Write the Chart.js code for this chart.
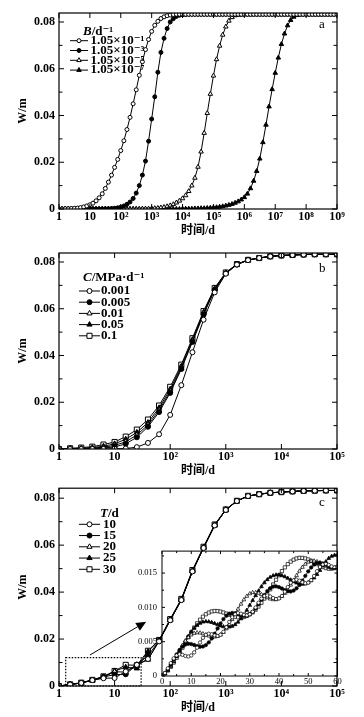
<!DOCTYPE html>
<html>
<head>
<meta charset="utf-8">
<script src="https://cdn.jsdelivr.net/npm/chart.js@4.4.1/dist/chart.umd.min.js"></script>
<style>
html, body { margin: 0; padding: 0; background: #fff; }
body { position: relative; width: 364px; height: 717px; overflow: hidden; }
canvas { position: absolute; }
</style>
</head>
<body>
<canvas id="chartA" width="364" height="240" style="left:0;top:0"></canvas>
<canvas id="chartB" width="364" height="240" style="left:0;top:240px"></canvas>
<canvas id="inset" width="228" height="150" style="left:118px;top:541px"></canvas>
<canvas id="chartC" width="364" height="240" style="left:0;top:477px"></canvas>
<script>
// ---- shared axis ticks ----
const decadeValues = [1, 10, 1e2, 1e3, 1e4, 1e5, 1e6, 1e7, 1e8, 1e9];
const decadeLabels = ['1', '10', '10²', '10³', '10⁴', '10⁵', '10⁶', '10⁷', '10⁸', '10⁹'];
const wTicks = [0, 0.01, 0.02, 0.03, 0.04, 0.05, 0.06, 0.07, 0.08];
const wTickLabels = ['0', '', '0.02', '', '0.04', '', '0.06', '', '0.08'];

// ---- panel a: W vs time, 10 samples per decade from 1 to 1e9 d ----
const aLabels = ['1.05×10⁻¹', '1.05×10⁻³', '1.05×10⁻⁵', '1.05×10⁻⁷'];
const aB1 = [
  0, 0, 0.0001, 0.0001, 0.0002, 0.0003, 0.0004, 0.0006, 0.0009, 0.0013,
  0.0018, 0.0025, 0.0035, 0.0048, 0.0065, 0.0088, 0.0115, 0.0145, 0.0178, 0.0212,
  0.0250, 0.0292, 0.0340, 0.0392, 0.0450, 0.0510, 0.0572, 0.0630, 0.0682, 0.0725,
  0.0760, 0.0786, 0.0803, 0.0815, 0.0822, 0.0827, 0.0830, 0.0832, 0.0833, 0.0833,
  0.0833, 0.0833, 0.0833, 0.0833, 0.0833, 0.0833, 0.0833, 0.0833, 0.0833, 0.0833,
  0.0833, 0.0833, 0.0833, 0.0833, 0.0833, 0.0833, 0.0833, 0.0833, 0.0833, 0.0833,
  0.0833, 0.0833, 0.0833, 0.0833, 0.0833, 0.0833, 0.0833, 0.0833, 0.0833, 0.0833,
  0.0833, 0.0833, 0.0833, 0.0833, 0.0833, 0.0833, 0.0833, 0.0833, 0.0833, 0.0833,
  0.0833, 0.0833, 0.0833, 0.0833, 0.0833, 0.0833, 0.0833, 0.0833, 0.0833, 0.0833,
  0.0833
];
const aB3 = [
  0, 0, 0, 0, 0, 0, 0, 0, 0, 0,
  0, 0, 0, 0, 0, 0.0001, 0.0001, 0.0002, 0.0003, 0.0005,
  0.0008, 0.0013, 0.0020, 0.0030, 0.0045, 0.0068, 0.0100, 0.0145, 0.0205, 0.0290,
  0.0385, 0.0480, 0.0585, 0.0670, 0.0730, 0.0772, 0.0800, 0.0814, 0.0824, 0.0829,
  0.0831, 0.0832, 0.0833, 0.0833, 0.0833, 0.0833, 0.0833, 0.0833, 0.0833, 0.0833,
  0.0833, 0.0833, 0.0833, 0.0833, 0.0833, 0.0833, 0.0833, 0.0833, 0.0833, 0.0833,
  0.0833, 0.0833, 0.0833, 0.0833, 0.0833, 0.0833, 0.0833, 0.0833, 0.0833, 0.0833,
  0.0833, 0.0833, 0.0833, 0.0833, 0.0833, 0.0833, 0.0833, 0.0833, 0.0833, 0.0833,
  0.0833, 0.0833, 0.0833, 0.0833, 0.0833, 0.0833, 0.0833, 0.0833, 0.0833, 0.0833,
  0.0833
];
const aB5 = [
  0, 0, 0, 0, 0, 0, 0, 0, 0, 0,
  0, 0, 0, 0, 0, 0, 0, 0, 0, 0,
  0, 0, 0, 0, 0, 0, 0, 0.0001, 0.0001, 0.0001,
  0.0002, 0.0003, 0.0004, 0.0006, 0.0008, 0.0011, 0.0015, 0.0020, 0.0027, 0.0035,
  0.0045, 0.0058, 0.0076, 0.0100, 0.0133, 0.0180, 0.0245, 0.0325, 0.0410, 0.0492,
  0.0570, 0.0640, 0.0698, 0.0745, 0.0780, 0.0805, 0.0820, 0.0828, 0.0831, 0.0832,
  0.0833, 0.0833, 0.0833, 0.0833, 0.0833, 0.0833, 0.0833, 0.0833, 0.0833, 0.0833,
  0.0833, 0.0833, 0.0833, 0.0833, 0.0833, 0.0833, 0.0833, 0.0833, 0.0833, 0.0833,
  0.0833, 0.0833, 0.0833, 0.0833, 0.0833, 0.0833, 0.0833, 0.0833, 0.0833, 0.0833,
  0.0833
];
const aB7 = [
  0, 0, 0, 0, 0, 0, 0, 0, 0, 0,
  0, 0, 0, 0, 0, 0, 0, 0, 0, 0,
  0, 0, 0, 0, 0, 0, 0, 0, 0, 0,
  0, 0, 0, 0, 0, 0, 0, 0, 0, 0,
  0.0001, 0.0001, 0.0001, 0.0001, 0.0002, 0.0002, 0.0003, 0.0003, 0.0004, 0.0005,
  0.0006, 0.0007, 0.0009, 0.0011, 0.0014, 0.0017, 0.0021, 0.0026, 0.0032, 0.0040,
  0.0050, 0.0065, 0.0088, 0.0120, 0.0162, 0.0215, 0.0285, 0.0360, 0.0438, 0.0512,
  0.0582, 0.0647, 0.0705, 0.0750, 0.0785, 0.0808, 0.0822, 0.0829, 0.0832, 0.0833,
  0.0833, 0.0833, 0.0833, 0.0833, 0.0833, 0.0833, 0.0833, 0.0833, 0.0833, 0.0833,
  0.0833
];
const aTime = aB1.map((_, i) => Math.pow(10, i / 10));

// ---- panel b ----
const bTime = [1, 1.585, 2.512, 3.981, 6.310, 10, 15.85, 25.12, 39.81, 63.10, 100, 158.5, 251.2,
  398.1, 631.0, 1000, 1585, 2512, 3981, 6310, 1e4, 15849, 25119, 39811, 63096, 1e5];
const bLabels = ['0.001', '0.005', '0.01', '0.05', '0.1'];
const bC0001 = [0, 0, 0, 0, 0, 0.0001, 0.0002, 0.0008, 0.0026, 0.0063, 0.0146, 0.0273, 0.0414,
  0.0553, 0.0670, 0.0750, 0.0789, 0.0808, 0.0817, 0.0824, 0.0828, 0.0830, 0.0832, 0.0833, 0.0833, 0.0833];
const bC0005 = [0, 0, 0.0001, 0.0002, 0.0004, 0.0009, 0.0022, 0.0050, 0.0095, 0.0158, 0.0240, 0.0342, 0.0458,
  0.0575, 0.0680, 0.0751, 0.0789, 0.0808, 0.0817, 0.0824, 0.0828, 0.0830, 0.0832, 0.0833, 0.0833, 0.0833];
const bC001 = [0, 0.0001, 0.0002, 0.0004, 0.0008, 0.0015, 0.0031, 0.0060, 0.0103, 0.0166, 0.0247, 0.0347, 0.0463,
  0.0580, 0.0683, 0.0752, 0.0790, 0.0808, 0.0817, 0.0824, 0.0828, 0.0830, 0.0832, 0.0833, 0.0833, 0.0833];
const bC005 = [0, 0.0001, 0.0003, 0.0006, 0.0012, 0.0022, 0.0042, 0.0071, 0.0113, 0.0176, 0.0256, 0.0354, 0.0468,
  0.0585, 0.0686, 0.0754, 0.0790, 0.0809, 0.0817, 0.0824, 0.0828, 0.0830, 0.0832, 0.0833, 0.0833, 0.0833];
const bC01 = [0, 0.0003, 0.0006, 0.0010, 0.0019, 0.0030, 0.0053, 0.0083, 0.0126, 0.0186, 0.0266, 0.0361, 0.0474,
  0.0590, 0.0689, 0.0755, 0.0791, 0.0809, 0.0817, 0.0824, 0.0828, 0.0830, 0.0832, 0.0833, 0.0833, 0.0833];

// ---- panel c (same time grid as b) ----
const cLabels = ['10', '15', '20', '25', '30'];
const cT10 = [0, 0.0006, 0.0013, 0.0025, 0.0033, 0.0034, 0.0062, 0.0090, 0.0115, 0.0190, 0.0280, 0.0366, 0.0488,
  0.0588, 0.0684, 0.0750, 0.0788, 0.0809, 0.0817, 0.0823, 0.0826, 0.0829, 0.0831, 0.0832, 0.0833, 0.0833];
const cT15 = [0, 0.0006, 0.0013, 0.0025, 0.0039, 0.0048, 0.0050, 0.0091, 0.0128, 0.0193, 0.0281, 0.0367, 0.0489,
  0.0589, 0.0685, 0.0750, 0.0788, 0.0809, 0.0817, 0.0823, 0.0826, 0.0829, 0.0831, 0.0832, 0.0833, 0.0833];
const cT20 = [0, 0.0006, 0.0013, 0.0025, 0.0038, 0.0061, 0.0059, 0.0090, 0.0112, 0.0192, 0.0280, 0.0366, 0.0488,
  0.0588, 0.0684, 0.0751, 0.0788, 0.0809, 0.0817, 0.0823, 0.0826, 0.0829, 0.0831, 0.0832, 0.0833, 0.0833];
const cT25 = [0, 0.0006, 0.0013, 0.0024, 0.0036, 0.0064, 0.0080, 0.0075, 0.0147, 0.0194, 0.0282, 0.0368, 0.0490,
  0.0590, 0.0685, 0.0751, 0.0788, 0.0809, 0.0817, 0.0823, 0.0826, 0.0829, 0.0831, 0.0832, 0.0833, 0.0833];
const cT30 = [0, 0.0007, 0.0014, 0.0026, 0.0041, 0.0064, 0.0090, 0.0088, 0.0150, 0.0196, 0.0285, 0.0371, 0.0494,
  0.0593, 0.0688, 0.0752, 0.0789, 0.0810, 0.0817, 0.0823, 0.0826, 0.0829, 0.0831, 0.0832, 0.0833, 0.0833];
const zoomBox = [1.32, 30, 0, 0.0121];       // t0, t1, W0, W1
const zoomArrow = [3.6, 0.0132, 37, 0.0274]; // from (t, W) to (t, W)

// ---- inset: first 60 days, one value per day ----
const insetDayTicks = [0, 5, 10, 15, 20, 25, 30, 35, 40, 45, 50, 55, 60];
const insetDayLabels = ['0', '', '10', '', '20', '', '30', '', '40', '', '50', '', '60'];
const insetWTicks = [0, 0.0025, 0.005, 0.0075, 0.01, 0.0125, 0.015, 0.0175];
const insetWLabels = ['0', '', '0.005', '', '0.010', '', '0.015', ''];
const iT10 = [
  0, 0.00044, 0.00112, 0.00188, 0.00256, 0.00300, 0.00316, 0.00308, 0.00292, 0.00284,
  0.00300, 0.00344, 0.00412, 0.00488, 0.00556, 0.00600, 0.00616, 0.00608, 0.00592, 0.00584,
  0.00600, 0.00644, 0.00712, 0.00788, 0.00856, 0.00900, 0.00916, 0.00908, 0.00892, 0.00884,
  0.00900, 0.00937, 0.00998, 0.01067, 0.01128, 0.01165, 0.01174, 0.01159, 0.01136, 0.01121,
  0.01130, 0.01167, 0.01228, 0.01297, 0.01358, 0.01395, 0.01404, 0.01389, 0.01366, 0.01351,
  0.01360, 0.01397, 0.01458, 0.01527, 0.01588, 0.01625, 0.01634, 0.01619, 0.01596, 0.01581,
  0.01590
];
const iT15 = [
  0, 0.00040, 0.00096, 0.00166, 0.00242, 0.00315, 0.00379, 0.00428, 0.00458, 0.00469,
  0.00465, 0.00452, 0.00436, 0.00426, 0.00430, 0.00450, 0.00490, 0.00546, 0.00616, 0.00692,
  0.00765, 0.00829, 0.00878, 0.00908, 0.00919, 0.00915, 0.00902, 0.00886, 0.00876, 0.00880,
  0.00900, 0.00933, 0.00982, 0.01045, 0.01114, 0.01180, 0.01237, 0.01279, 0.01302, 0.01306,
  0.01295, 0.01275, 0.01252, 0.01235, 0.01232, 0.01245, 0.01278, 0.01327, 0.01390, 0.01459,
  0.01525, 0.01582, 0.01624, 0.01647, 0.01651, 0.01640, 0.01620, 0.01597, 0.01580, 0.01577,
  0.01590
];
const iT20 = [
  0, 0.00037, 0.00089, 0.00152, 0.00224, 0.00300, 0.00376, 0.00448, 0.00511, 0.00563,
  0.00600, 0.00623, 0.00631, 0.00628, 0.00616, 0.00600, 0.00584, 0.00572, 0.00569, 0.00577,
  0.00600, 0.00637, 0.00689, 0.00752, 0.00824, 0.00900, 0.00976, 0.01048, 0.01111, 0.01163,
  0.01200, 0.01216, 0.01217, 0.01207, 0.01188, 0.01165, 0.01142, 0.01123, 0.01113, 0.01114,
  0.01130, 0.01160, 0.01205, 0.01261, 0.01326, 0.01395, 0.01464, 0.01529, 0.01585, 0.01630,
  0.01660, 0.01676, 0.01677, 0.01667, 0.01648, 0.01625, 0.01602, 0.01583, 0.01573, 0.01574,
  0.01590
];
const iT25 = [
  0, 0.00036, 0.00084, 0.00142, 0.00208, 0.00281, 0.00358, 0.00436, 0.00511, 0.00581,
  0.00644, 0.00697, 0.00739, 0.00769, 0.00787, 0.00794, 0.00791, 0.00781, 0.00766, 0.00748,
  0.00731, 0.00718, 0.00712, 0.00714, 0.00726, 0.00750, 0.00786, 0.00834, 0.00892, 0.00958,
  0.01031, 0.01101, 0.01172, 0.01240, 0.01303, 0.01359, 0.01405, 0.01440, 0.01463, 0.01474,
  0.01474, 0.01464, 0.01447, 0.01425, 0.01400, 0.01376, 0.01356, 0.01343, 0.01338, 0.01343,
  0.01360, 0.01389, 0.01430, 0.01481, 0.01540, 0.01606, 0.01665, 0.01715, 0.01745, 0.01760,
  0.01765
];
const iT30 = [
  0, 0.00035, 0.00080, 0.00133, 0.00195, 0.00263, 0.00336, 0.00412, 0.00489, 0.00565,
  0.00638, 0.00706, 0.00767, 0.00821, 0.00865, 0.00900, 0.00925, 0.00941, 0.00947, 0.00946,
  0.00938, 0.00925, 0.00909, 0.00892, 0.00876, 0.00863, 0.00855, 0.00853, 0.00860, 0.00875,
  0.00900, 0.00928, 0.00966, 0.01012, 0.01067, 0.01128, 0.01194, 0.01263, 0.01333, 0.01402,
  0.01468, 0.01529, 0.01583, 0.01630, 0.01667, 0.01695, 0.01713, 0.01722, 0.01721, 0.01713,
  0.01698, 0.01678, 0.01655, 0.01631, 0.01608, 0.01588, 0.01573, 0.01564, 0.01564, 0.01572,
  0.01590
];
const insetDays = iT10.map((_, i) => i);

// ---- styling ----
const serif = "'Liberation Serif', 'DejaVu Serif', serif";
const cjkSerif = "'Liberation Serif', 'Noto Sans CJK SC', serif";
Chart.defaults.color = '#000';
Chart.defaults.font.family = serif;

function series(label, xs, ys, style, open, r, lw) {
  return {
    label,
    data: xs.map((x, i) => ({ x, y: ys[i] })),
    borderColor: '#000',
    borderWidth: lw || 1,
    pointStyle: style,
    pointRadius: r,
    pointHoverRadius: r,
    pointBorderWidth: lw ? 0.7 : 1,
    pointBorderColor: '#000',
    pointBackgroundColor: open ? '#fff' : '#000',
    tension: 0
  };
}

// box round the plot area, inward ticks on all four sides, panel letter
const frame = {
  id: 'frame',
  afterDatasetsDraw(chart, args, o) {
    if (!o || !o.tick) return;
    const { ctx, chartArea: a } = chart;
    const x = chart.scales.x, y = chart.scales.y;
    ctx.save();
    ctx.strokeStyle = '#000';
    ctx.lineWidth = 1;
    ctx.beginPath();
    x.ticks.forEach(t => {
      const p = x.getPixelForValue(t.value), l = t.label ? o.tick : o.minor;
      ctx.moveTo(p, a.bottom); ctx.lineTo(p, a.bottom - l);
      ctx.moveTo(p, a.top); ctx.lineTo(p, a.top + l);
    });
    y.ticks.forEach(t => {
      const p = y.getPixelForValue(t.value), l = t.label ? o.tick : o.minor;
      ctx.moveTo(a.left, p); ctx.lineTo(a.left + l, p);
      ctx.moveTo(a.right, p); ctx.lineTo(a.right - l, p);
    });
    ctx.stroke();
    ctx.lineWidth = o.border;
    ctx.strokeRect(a.left, a.top, a.right - a.left, a.bottom - a.top);
    if (o.letter) {
      ctx.fillStyle = '#000';
      ctx.font = '13px ' + serif;
      ctx.textBaseline = 'middle';
      ctx.fillText(o.letter, o.letterX, o.letterY);
    }
    ctx.restore();
  }
};

// legend drawn as  —o—  label, with a mixed italic title
const lineLegend = {
  id: 'lineLegend',
  afterDraw(chart, args, o) {
    if (!o || !o.title) return;
    const ctx = chart.ctx;
    ctx.save();
    ctx.textBaseline = 'middle';
    ctx.fillStyle = '#000';
    ctx.strokeStyle = '#000';
    let tx = o.titleX;
    o.title.forEach(([text, style]) => {
      ctx.font = `${style} bold ${o.size}px ${serif}`;
      ctx.fillText(text, tx, o.titleY);
      tx += ctx.measureText(text).width;
    });
    ctx.font = `${o.weight} ${o.size}px ${serif}`;
    chart.data.datasets.forEach((ds, i) => {
      const yy = o.rowY + i * o.rowH;
      ctx.lineWidth = 1;
      ctx.beginPath();
      ctx.moveTo(o.lineX, yy);
      ctx.lineTo(o.lineX + o.lineLen, yy);
      ctx.stroke();
      ctx.fillStyle = ds.pointBackgroundColor;
      Chart.helpers.drawPoint(ctx, { pointStyle: ds.pointStyle, radius: ds.pointRadius, borderWidth: 1, rotation: 0 },
        o.lineX + o.lineLen / 2, yy);
      ctx.fillStyle = '#000';
      ctx.fillText(ds.label, o.textX, yy);
    });
    ctx.restore();
  }
};

// dotted zoom window and arrow pointing to the inset (panel c)
const zoomMark = {
  id: 'zoomMark',
  afterDatasetsDraw(chart, args, o) {
    if (!o || !o.box) return;
    const { ctx } = chart, x = chart.scales.x, y = chart.scales.y;
    const L = x.getPixelForValue(o.box[0]), R = x.getPixelForValue(o.box[1]);
    const B = y.getPixelForValue(o.box[2]), T = y.getPixelForValue(o.box[3]);
    ctx.save();
    ctx.strokeStyle = '#000';
    ctx.fillStyle = '#000';
    ctx.lineWidth = 1.2;
    ctx.setLineDash([1.5, 1.5]);
    ctx.strokeRect(L, T, R - L, B - T);
    ctx.setLineDash([]);
    const sx = x.getPixelForValue(o.arrow[0]), sy = y.getPixelForValue(o.arrow[1]);
    const ex = x.getPixelForValue(o.arrow[2]), ey = y.getPixelForValue(o.arrow[3]);
    const ang = Math.atan2(ey - sy, ex - sx), head = 10, half = 4.5;
    const bx = ex - head * Math.cos(ang), by = ey - head * Math.sin(ang);
    ctx.lineWidth = 1;
    ctx.beginPath(); ctx.moveTo(sx, sy); ctx.lineTo(bx, by); ctx.stroke();
    ctx.beginPath();
    ctx.moveTo(ex, ey);
    ctx.lineTo(bx + half * Math.sin(ang), by - half * Math.cos(ang));
    ctx.lineTo(bx - half * Math.sin(ang), by + half * Math.cos(ang));
    ctx.closePath();
    ctx.fill();
    ctx.restore();
  }
};

Chart.register(frame, lineLegend, zoomMark);

const tickFont = { family: serif, size: 12, weight: 'bold' };

function mainChart(id, datasets, opt) {
  return new Chart(document.getElementById(id), {
    type: 'line',
    data: { datasets },
    options: {
      responsive: false,
      animation: false,
      events: [],
      layout: { padding: { top: opt.top, right: 27, left: 0, bottom: 0 } },
      plugins: {
        legend: { display: false },
        tooltip: { enabled: false },
        frame: { tick: 5, minor: 3.5, border: 1.2, letter: opt.letter, letterX: 319, letterY: opt.letterY },
        lineLegend: opt.legend,
        zoomMark: opt.zoom || {}
      },
      scales: {
        x: {
          type: 'logarithmic',
          min: 1,
          max: opt.xTicks[opt.xTicks.length - 1],
          afterBuildTicks: s => { s.ticks = opt.xTicks.map(value => ({ value })); },
          afterFit: s => { s.height = 31; },
          ticks: { autoSkip: false, maxRotation: 0, padding: 1, font: tickFont,
            callback: (v, i) => decadeLabels[i] },
          grid: { display: false, drawTicks: false },
          border: { display: false },
          title: { display: true, text: '时间/d', font: { family: cjkSerif, size: 12, weight: 'bold' },
            padding: { top: 0, bottom: 2 } }
        },
        y: {
          min: 0,
          max: opt.yMax,
          afterBuildTicks: s => { s.ticks = wTicks.map(value => ({ value })); },
          afterFit: s => { s.width = 59; },
          ticks: { autoSkip: false, padding: 4, font: tickFont, callback: (v, i) => wTickLabels[i] },
          grid: { display: false, drawTicks: false },
          border: { display: false },
          title: { display: true, text: 'W/m', font: { family: serif, size: 12, weight: 'bold' },
            padding: { top: 16, bottom: 0 } }
        }
      }
    }
  });
}

mainChart('chartA', [
  series(aLabels[0], aTime, aB1, 'circle', true, 2),
  series(aLabels[1], aTime, aB3, 'circle', false, 2),
  series(aLabels[2], aTime, aB5, 'triangle', true, 2.6),
  series(aLabels[3], aTime, aB7, 'triangle', false, 2.6)
], {
  top: 13, yMax: 0.08385, xTicks: decadeValues, letter: 'a', letterY: 25,
  legend: { title: [['B', 'italic'], ['/d⁻¹', 'normal']], titleX: 83, titleY: 31.5, size: 13, weight: 'bold',
    rowY: 40.7, rowH: 9.8, lineX: 70, lineLen: 18, textX: 90.5 }
});

mainChart('chartB', [
  series(bLabels[0], bTime, bC0001, 'circle', true, 2.5),
  series(bLabels[1], bTime, bC0005, 'circle', false, 2.5),
  series(bLabels[2], bTime, bC001, 'triangle', true, 3),
  series(bLabels[3], bTime, bC005, 'triangle', false, 3),
  series(bLabels[4], bTime, bC01, 'rect', true, 3.6)
], {
  top: 13, yMax: 0.08385, xTicks: decadeValues.slice(0, 6), letter: 'b', letterY: 29,
  legend: { title: [['C', 'italic'], ['/MPa·d⁻¹', 'normal']], titleX: 83, titleY: 37.7, size: 13, weight: 'bold',
    rowY: 51, rowH: 11.2, lineX: 79, lineLen: 21, textX: 101 }
});

new Chart(document.getElementById('inset'), {
  type: 'line',
  data: {
    datasets: [
      series('10', insetDays, iT10, 'circle', true, 1.7, 0.8),
      series('15', insetDays, iT15, 'circle', false, 1.7, 0.8),
      series('20', insetDays, iT20, 'triangle', true, 2.2, 0.8),
      series('25', insetDays, iT25, 'triangle', false, 2.2, 0.8),
      series('30', insetDays, iT30, 'rect', true, 2.3, 0.8)
    ]
  },
  options: {
    responsive: false,
    animation: false,
    events: [],
    layout: { padding: { top: 10, right: 8.5, left: 0, bottom: 0 } },
    plugins: { legend: { display: false }, tooltip: { enabled: false }, frame: { tick: 3, minor: 2, border: 1 } },
    scales: {
      x: {
        type: 'linear', min: 0, max: 60,
        afterBuildTicks: s => { s.ticks = insetDayTicks.map(value => ({ value })); },
        afterFit: s => { s.height = 15; },
        ticks: { autoSkip: false, maxRotation: 0, padding: 1, font: { family: serif, size: 8.5 },
          callback: (v, i) => insetDayLabels[i] },
        grid: { display: false, drawTicks: false },
        border: { display: false }
      },
      y: {
        min: 0, max: 0.0182,
        afterBuildTicks: s => { s.ticks = insetWTicks.map(value => ({ value })); },
        afterFit: s => { s.width = 44; },
        ticks: { autoSkip: false, padding: 5, font: { family: serif, size: 8.5 },
          callback: (v, i) => insetWLabels[i] },
        grid: { display: false, drawTicks: false },
        border: { display: false }
      }
    }
  }
});

mainChart('chartC', [
  series(cLabels[0], bTime, cT10, 'circle', true, 2.5),
  series(cLabels[1], bTime, cT15, 'circle', false, 2.5),
  series(cLabels[2], bTime, cT20, 'triangle', true, 3),
  series(cLabels[3], bTime, cT25, 'triangle', false, 3),
  series(cLabels[4], bTime, cT30, 'rect', true, 3.6)
], {
  top: 11, yMax: 0.08426, xTicks: decadeValues.slice(0, 6), letter: 'c', letterY: 26,
  legend: { title: [['T', 'italic'], ['/d', 'normal']], titleX: 100, titleY: 36.3, size: 13, weight: 'bold',
    rowY: 47.3, rowH: 11.25, lineX: 79, lineLen: 21, textX: 103 },
  zoom: { box: zoomBox, arrow: zoomArrow }
});
</script>
</body>
</html>
